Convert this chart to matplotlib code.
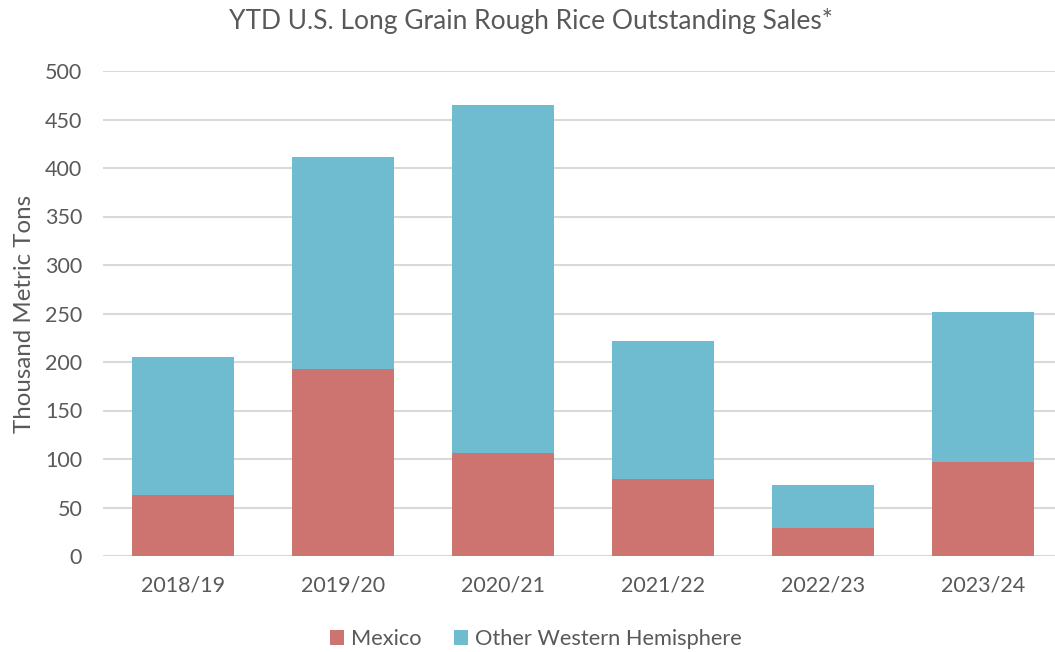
import matplotlib.pyplot as plt
import numpy as np

years = ['2018/19', '2019/20', '2020/21', '2021/22', '2022/23', '2023/24']
mexico = [63, 193, 106, 79, 29, 97]
other_wh = [142, 218, 359, 143, 44, 155]

plt.rcParams['font.family'] = ['Lato', 'DejaVu Sans']
txt = '#595959'

fig = plt.figure(figsize=(10.55, 6.52), dpi=100)
ax = fig.add_axes([103/1055, 96/652, 1.0 - 103/1055, 485/652])

x = np.arange(len(years))
w = 0.64
ax.bar(x, mexico, w, color='#CD7370', label='Mexico', zorder=3)
ax.bar(x, other_wh, w, bottom=mexico, color='#6FBCD0', label='Other Western Hemisphere', zorder=3)

ax.set_ylim(0, 500)
ax.set_xlim(-0.5, -0.5 + 952/160)
ax.set_yticks(range(0, 501, 50))
ax.set_xticks(x)
ax.set_xticklabels(years)
ax.yaxis.grid(True, color='#D9D9D9', linewidth=1.5, zorder=0)
for s in ax.spines.values():
    s.set_visible(False)
ax.tick_params(axis='both', length=0, colors=txt, labelsize=15.5)
ax.tick_params(axis='x', pad=14)
ax.tick_params(axis='y', pad=15)
ax.set_ylabel('Thousand Metric Tons', color=txt, fontsize=17.3)
ax.yaxis.set_label_coords(-68/952, 0.5)

fig.text(0.503, 0.968, 'YTD U.S. Long Grain Rough Rice Outstanding Sales*', ha='center', va='center',
         fontsize=19, color=txt)

leg = fig.legend(loc='center', bbox_to_anchor=(0.508, 0.02), ncol=2, frameon=False,
                 fontsize=15.7, handlelength=0.65, handleheight=0.65, columnspacing=1.5, handletextpad=0.3)
for t in leg.get_texts():
    t.set_color(txt)

fig.savefig('out.png', dpi=100)
